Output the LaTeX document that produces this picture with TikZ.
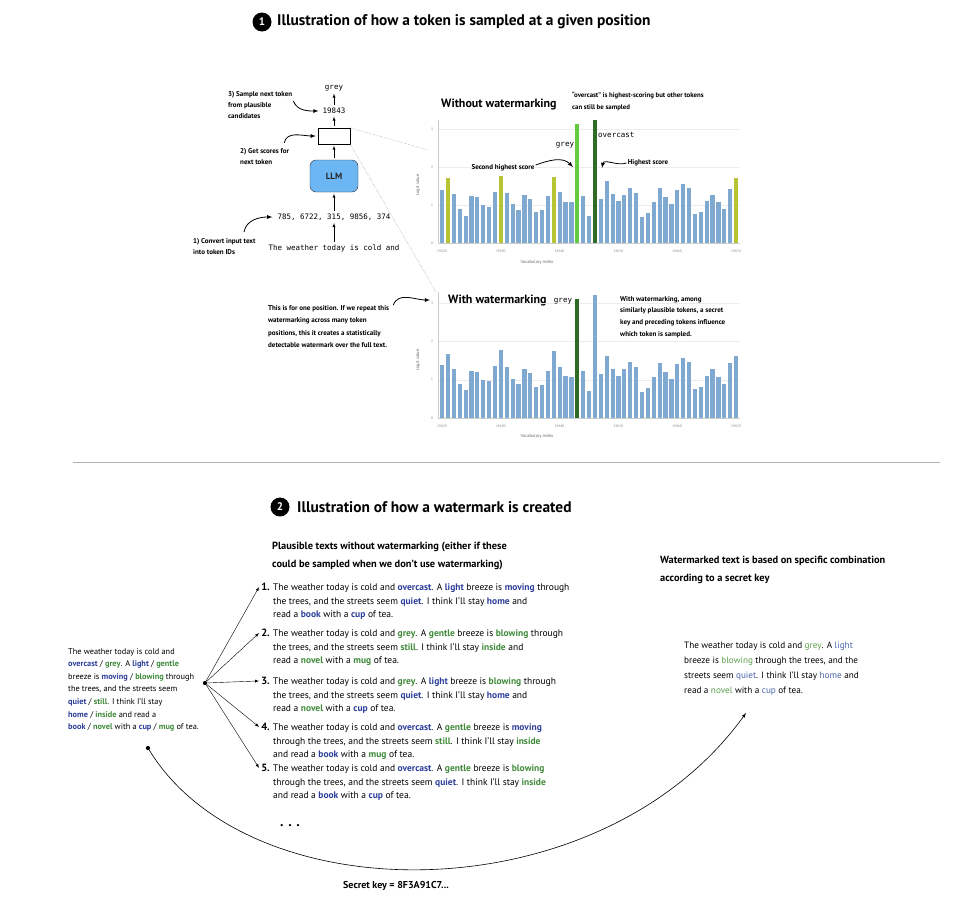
\documentclass[tikz,border=0pt]{standalone}
\usepackage{fontspec}
\setmainfont{PT Sans}
\newfontfamily\codefont{DejaVu Sans Mono}
\usetikzlibrary{positioning}

\definecolor{barblue}{HTML}{7FA9D0}
\definecolor{baryel}{HTML}{B7C433}
\definecolor{barlime}{HTML}{62CB3F}
\definecolor{bardark}{HTML}{2F6B25}
\definecolor{tokblue}{HTML}{2C3E9A}
\definecolor{tokgreen}{HTML}{3F8A3A}
\definecolor{softblue}{HTML}{4B64A8}
\definecolor{softgreen}{HTML}{5C9E4E}
\definecolor{llmfill}{HTML}{6CB6F4}

\newcommand{\blu}[1]{\textcolor{tokblue}{\textbf{#1}}}
\newcommand{\grn}[1]{\textcolor{tokgreen}{\textbf{#1}}}
\newcommand{\lblu}[1]{\textcolor{softblue}{#1}}
\newcommand{\lgrn}[1]{\textcolor{softgreen}{#1}}

\tikzstyle{note} = [font=\fontsize{7}{11}\selectfont\bfseries, align=left, inner sep=0pt]
\tikzstyle{code} = [font=\codefont\fontsize{7.5}{9}\selectfont, inner sep=1pt]
\tikzstyle{heading} = [font=\fontsize{15.4}{19}\selectfont\bfseries, inner sep=0pt]
\tikzstyle{subhead} = [font=\fontsize{10.4}{18}\selectfont\bfseries, align=left, inner sep=0pt]
\tikzstyle{charttitle} = [font=\fontsize{12}{14}\selectfont\bfseries, inner sep=0pt]
\tikzstyle{numcirc} = [circle, fill=black, text=white, minimum size=19pt, inner sep=0pt, font=\fontsize{11}{12}\selectfont\bfseries]
\tikzstyle{item} = [font=\fontsize{9.5}{13.5}\selectfont, align=left, inner sep=0pt]
\tikzstyle{itemnum} = [font=\fontsize{10.5}{13.5}\selectfont\bfseries, inner sep=0pt]
\tikzstyle{tiny} = [font=\fontsize{3.5}{4}\selectfont, text=gray, inner sep=0pt]
\tikzstyle{axlab} = [font=\fontsize{4.5}{5}\selectfont, text=gray!80!black, inner sep=0pt]
\tikzstyle{up} = [->, >=latex, thin, shorten >=1.5pt, shorten <=1.5pt]
\tikzstyle{curv} = [->, >=latex, thick]
\tikzstyle{grid} = [gray!15, very thin]

\begin{document}
\begin{tikzpicture}[x=1pt, y=-1pt]
\useasboundingbox (0,0) rectangle (964,897);

% part 1
\node[numcirc] (c1) at (262,22) {1};
\node[heading, anchor=west] (t1) at (277,22) {Illustration of how a token is sampled at a given position};

\node[code] (grey) at (334,88) {grey};
\node[code] (tokid) at (334,111) {19843};
\node[draw, fill=white, minimum width=32pt, minimum height=16pt, inner sep=0pt] (scores) at (334,136) {};
\node[draw=black!80, fill=llmfill, rounded corners=6pt, minimum width=48pt, minimum height=32pt, font=\fontsize{9}{10}\selectfont\bfseries, text=black!85] (llm) at (334,176) {LLM};
\node[code] (ids) at (334,217) {785, 6722, 315, 9856, 374};
\node[code] (input) at (334,248) {The weather today is cold and};

\draw[up] (input) -- (ids);
\draw[up] (ids) -- (llm);
\draw[up] (llm) -- (scores);
\draw[up] (scores) -- (tokid);
\draw[up] (tokid) -- (grey);

\node[note, anchor=north west] (lab3) at (228,91) {3) Sample next token\\from plausible\\candidates};
\node[note, anchor=north west] (lab2) at (240,148) {2) Get scores for\\next token};
\node[note, anchor=north west] (lab1) at (193,238) {1) Convert input text\\into token IDs};

\draw[curv] ([xshift=1pt,yshift=-10pt]lab3.north east) to[out=-70, in=180] ([xshift=-3pt]tokid.west);
\draw[curv] ([xshift=-5pt,yshift=5pt]lab2.north east) to[out=80, in=180] ([xshift=-2pt]scores.west);
\draw[curv] ([xshift=51pt,yshift=6pt]lab1.north west) to[out=80, in=180] ([xshift=-4pt]ids.west);

\coordinate (zoomA) at (428,150);
\coordinate (zoomB) at (436,292);
\draw[densely dotted, gray] (scores.north east) -- (zoomA);
\draw[densely dotted, gray] (scores.south east) -- (zoomB);

% chart without watermarking
\node[charttitle, anchor=base west] (ct1) at (441,107) {Without watermarking};
\node[note, font=\fontsize{6.8}{12}\selectfont\bfseries, anchor=north west] (ann1) at (572,92) {``overcast'' is highest-scoring but other tokens\\can still be sampled};
\foreach \k in {1,2,3}
  \draw[grid] (438,243-\k*38) -- (740,243-\k*38);
\draw[gray!40, very thin] (438,243) -- (740,243);
\draw[gray!40, very thin] (438,243) -- (438,120);
\foreach \k in {0,...,3}
  \node[tiny] at (432,243-\k*38) {\k};
\foreach \k in {0,...,5}
  \node[tiny] at (442+\k*58.8,251) {196\the\numexpr 20+\k*10\relax};
\node[axlab] (vx1) at (537,262) {Vocabulary index};
\node[axlab, rotate=90] (vy1) at (418,185) {Logit value};
\foreach \h/\c [count=\i from 0] in {
  1.39/barblue, 1.70/baryel, 1.28/barblue, 0.90/barblue, 0.72/barblue, 1.23/barblue, 1.20/barblue, 0.99/barblue, 0.96/barblue, 1.35/barblue,
  1.77/baryel, 1.32/barblue, 1.02/barblue, 0.88/barblue, 1.27/barblue, 1.17/barblue, 0.81/barblue, 0.87/barblue, 1.24/barblue, 1.75/baryel,
  1.33/barblue, 1.09/barblue, 1.08/barblue, 3.13/barlime, 1.23/barblue, 0.70/barblue, 3.24/bardark, 1.15/barblue, 1.63/barblue, 1.29/barblue,
  1.10/barblue, 1.27/barblue, 1.46/barblue, 1.32/barblue, 0.69/barblue, 0.78/barblue, 1.08/barblue, 1.44/barblue, 1.20/barblue, 1.02/barblue,
  1.40/barblue, 1.56/barblue, 1.45/barblue, 0.77/barblue, 0.82/barblue, 1.10/barblue, 1.27/barblue, 1.07/barblue, 0.89/barblue, 1.43/barblue,
  1.70/baryel}
  \fill[\c] (440+\i*5.88,243) rectangle (444.2+\i*5.88,243-\h*38);
\node[code] (greylab1) at (565,145) {grey};
\node[code, anchor=west] (overlab) at (597,135) {overcast};
\node[note] (second) at (503,168) {Second highest score};
\node[note] (highest) at (648,163) {Highest score};
\coordinate (tipgrey) at (573,167);
\coordinate (tipover) at (602,168);
\draw[curv] ([xshift=1pt,yshift=3pt]second.east) to[out=20, in=135] (tipgrey);
\draw[curv] ([xshift=-1pt]highest.west) to[out=200, in=80] (tipover);

% chart with watermarking
\node[charttitle, anchor=base west] (ct2) at (448,303) {With watermarking};
\foreach \k in {1,2,3}
  \draw[grid] (438,418-\k*38.3) -- (740,418-\k*38.3);
\draw[gray!40, very thin] (438,418) -- (740,418);
\draw[gray!40, very thin] (438,418) -- (438,292);
\foreach \k in {0,...,3}
  \node[tiny] at (432,418-\k*38.3) {\k};
\foreach \k in {0,...,5}
  \node[tiny] at (442+\k*58.8,426) {196\the\numexpr 20+\k*10\relax};
\node[axlab] (vx2) at (537,436) {Vocabulary index};
\node[axlab, rotate=90] (vy2) at (418,360) {Logit value};
\foreach \h/\c [count=\i from 0] in {
  1.39/barblue, 1.68/barblue, 1.28/barblue, 0.90/barblue, 0.72/barblue, 1.23/barblue, 1.20/barblue, 0.99/barblue, 0.96/barblue, 1.35/barblue,
  1.77/barblue, 1.32/barblue, 1.02/barblue, 0.88/barblue, 1.27/barblue, 1.17/barblue, 0.81/barblue, 0.87/barblue, 1.24/barblue, 1.75/barblue,
  1.33/barblue, 1.09/barblue, 1.08/barblue, 3.10/bardark, 1.23/barblue, 0.70/barblue, 3.21/barblue, 1.15/barblue, 1.63/barblue, 1.29/barblue,
  1.10/barblue, 1.27/barblue, 1.46/barblue, 1.32/barblue, 0.69/barblue, 0.78/barblue, 1.08/barblue, 1.44/barblue, 1.20/barblue, 1.02/barblue,
  1.40/barblue, 1.56/barblue, 1.45/barblue, 0.77/barblue, 0.82/barblue, 1.10/barblue, 1.27/barblue, 1.07/barblue, 0.89/barblue, 1.43/barblue,
  1.62/barblue}
  \fill[\c] (440+\i*5.88,418) rectangle (444.2+\i*5.88,418-\h*38.3);
\node[code] (greylab2) at (563,301) {grey};
\node[note, anchor=north west, font=\fontsize{7}{11.7}\selectfont\bfseries] (ann2) at (620,296) {With watermarking, among\\similarly plausible tokens, a secret\\key and preceding tokens influence\\which token is sampled.};
\node[note, anchor=north west, font=\fontsize{7}{12.5}\selectfont\bfseries] (note4) at (268,305) {This is for one position. If we repeat this\\watermarking across many token\\positions, this it creates a statistically\\detectable watermark over the full text.};
\draw[curv] ([xshift=4pt]note4.north east) to[out=70, in=180] ([xshift=-18pt]ct2.west);

\draw[gray!60] (73,462) -- (940,462);

% part 2
\node[numcirc] (c2) at (280,507) {2};
\node[heading, anchor=west] (t2) at (297,507) {Illustration of how a watermark is created};
\node[subhead, anchor=north west] (plaus) at (272,542) {Plausible texts without watermarking (either if these\\could be sampled when we don't use watermarking)};
\node[subhead, anchor=north west] (wmhead) at (660,556) {Watermarked text is based on specific combination\\according to a secret key};

\node[item, anchor=north west] (it1) at (273,584) {The weather today is cold and \blu{overcast}. A \blu{light} breeze is \blu{moving} through\\the trees, and the streets seem \blu{quiet}. I think I'll stay \blu{home} and\\read a \blu{book} with a \blu{cup} of tea.};
\node[item, anchor=north west] (it2) at (273,630) {The weather today is cold and \grn{grey}. A \grn{gentle} breeze is \grn{blowing} through\\the trees, and the streets seem \grn{still}. I think I'll stay \grn{inside} and\\read a \grn{novel} with a \grn{mug} of tea.};
\node[item, anchor=north west] (it3) at (273,678) {The weather today is cold and \grn{grey}. A \blu{light} breeze is \grn{blowing} through\\the trees, and the streets seem \blu{quiet}. I think I'll stay \blu{home} and\\read a \grn{novel} with a \blu{cup} of tea.};
\node[item, anchor=north west] (it4) at (273,724) {The weather today is cold and \blu{overcast}. A \grn{gentle} breeze is \blu{moving}\\through the trees, and the streets seem \grn{still}. I think I'll stay \grn{inside}\\and read a \blu{book} with a \grn{mug} of tea.};
\node[item, anchor=north west] (it5) at (273,765) {The weather today is cold and \blu{overcast}. A \grn{gentle} breeze is \grn{blowing}\\through the trees, and the streets seem \blu{quiet}. I think I'll stay \grn{inside}\\and read a \blu{book} with a \blu{cup} of tea.};
\foreach \n in {1,...,5}
  \node[itemnum, anchor=north east] (n\n) at ([xshift=-3pt,yshift=1pt]it\n.north west) {\n.};
\node[font=\fontsize{14}{14}\selectfont\bfseries] (more) at (290,826) {. . .};

\node[item, anchor=north west, font=\fontsize{8.3}{12.6}\selectfont] (mix) at (68,648) {The weather today is cold and\\\blu{overcast} / \grn{grey}. A \blu{light} / \grn{gentle}\\breeze is \blu{moving} / \grn{blowing} through\\the trees, and the streets seem\\\blu{quiet} / \grn{still}. I think I'll stay\\\blu{home} / \grn{inside} and read a\\\blu{book} / \grn{novel} with a \blu{cup} / \grn{mug} of tea.};

\node[circle, fill=black, inner sep=1.5pt] (fan) at (205,683) {};
\foreach \n in {1,...,5}
  \draw[curv, thin] (fan) -- ([xshift=-2pt]n\n.west);

\node[item, anchor=north west, font=\fontsize{9.2}{15}\selectfont] (wmtext) at (684,642) {The weather today is cold and \lgrn{grey}. A \lblu{light}\\breeze is \lgrn{blowing} through the trees, and the\\streets seem \lblu{quiet}. I think I'll stay \lblu{home} and\\read a \lgrn{novel} with a \lblu{cup} of tea.};

\node[circle, fill=black, inner sep=1.5pt] (src) at (148,748) {};
\coordinate (wmin) at (746,713);
\draw[curv, semithick] (src) .. controls (250,915) and (600,915) .. (wmin);
\node[font=\fontsize{10}{12}\selectfont\bfseries] (key) at (396,886) {Secret key = 8F3A91C7...};
\end{tikzpicture}
\end{document}
